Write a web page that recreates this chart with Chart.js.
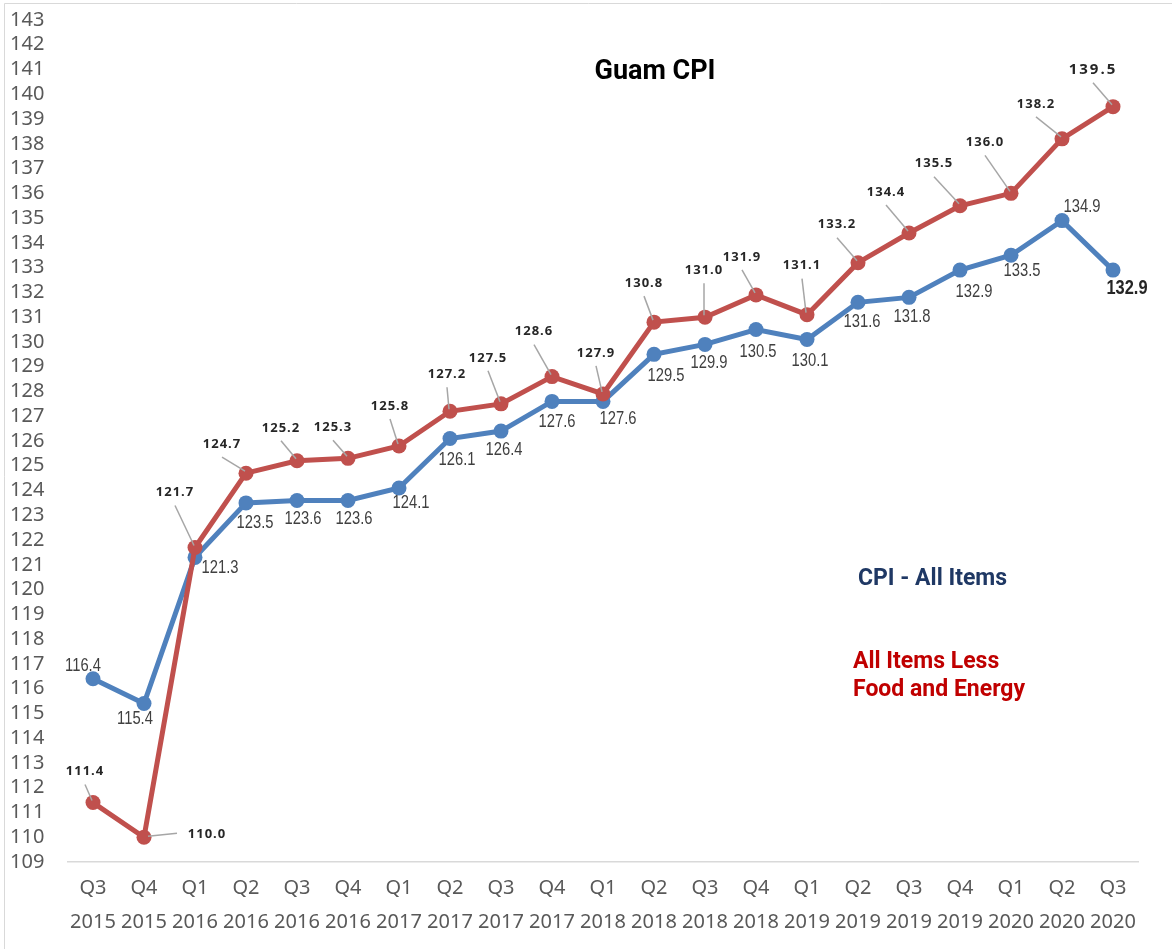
<!DOCTYPE html>
<html>
<head>
<meta charset="utf-8">
<title>Guam CPI</title>
<script src="https://cdn.jsdelivr.net/npm/chart.js@4.4.1/dist/chart.umd.min.js"></script>
<style>
  body { margin: 0; background: #fff; }
  canvas { display: block; }
</style>
</head>
<body>
<canvas id="cpiChart" width="1172" height="949"></canvas>
<script>
// quarters and years for the x axis
const quarters = ['Q3','Q4','Q1','Q2','Q3','Q4','Q1','Q2','Q3','Q4','Q1','Q2','Q3','Q4','Q1','Q2','Q3','Q4','Q1','Q2','Q3'];
const years = ['2015','2015','2016','2016','2016','2016','2017','2017','2017','2017','2018','2018','2018','2018','2019','2019','2019','2019','2020','2020','2020'];

// CPI - All Items
const cpiAll = [116.4, 115.4, 121.3, 123.5, 123.6, 123.6, 124.1, 126.1, 126.4, 127.6, 127.6, 129.5, 129.9, 130.5, 130.1, 131.6, 131.8, 132.9, 133.5, 134.9, 132.9];
// All Items Less Food and Energy
const cpiCore = [111.4, 110.0, 121.7, 124.7, 125.2, 125.3, 125.8, 127.2, 127.5, 128.6, 127.9, 130.8, 131.0, 131.9, 131.1, 133.2, 134.4, 135.5, 136.0, 138.2, 139.5];

const yMin = 109;
const yMax = 143;

const labels = quarters.map((q, i) => [q, years[i]]);

// where each value label sits relative to its point (px)
const allLabelPos = [[-10,-13],[-9,16],[25,11],[9,20],[6,19],[6,19],[12,15],[7,22],[3,19],[5,21],[15,18],
  [12,22],[4,19],[2,22],[3,22],[4,20],[3,20],[14,22],[11,16],[20,-14],[14,18]];
const coreLabelPos = [[-8,-31],[63,-3],[-20,-55],[-24,-29],[-16,-33],[-15,-31],[-9,-40],[-3,-37],[-13,-46],[-18,-45],[-7,-41],
  [-10,-39],[-1,-47],[-14,-38],[-5,-49],[-21,-38],[-23,-41],[-26,-42],[-26,-51],[-26,-35],[-20,-37]];

const valueLabels = {
  id: 'valueLabels',
  afterDatasetsDraw(chart) {
    const ctx = chart.ctx;
    chart.data.datasets.forEach((ds, di) => {
      const meta = chart.getDatasetMeta(di);
      const core = ds.label !== 'CPI - All Items';
      const pos = core ? coreLabelPos : allLabelPos;
      meta.data.forEach((pt, i) => {
        const last = i === meta.data.length - 1;
        const text = ds.data[i].toFixed(1);
        const lx = pt.x + pos[i][0];
        const ly = pt.y + pos[i][1];
        ctx.save();
        if (core) {
          // leader line
          ctx.strokeStyle = '#a6a6a6';
          ctx.lineWidth = 1.5;
          ctx.beginPath();
          if (Math.abs(pos[i][0]) > Math.abs(pos[i][1])) {
            ctx.moveTo(pt.x + 4, pt.y - 1);
            ctx.lineTo(lx - 30, ly - 1);
          } else {
            ctx.moveTo(lx, ly + 13);
            ctx.lineTo(pt.x - 1, pt.y - 2);
          }
          ctx.stroke();
          ctx.font = last ? 'bold 15px "Open Sans"' : 'bold 13px "Open Sans"';
          ctx.letterSpacing = last ? '2px' : '1px';
          ctx.fillStyle = '#262626';
          ctx.textAlign = 'center';
          ctx.textBaseline = 'middle';
          ctx.fillText(text, lx, ly);
        } else {
          ctx.translate(lx, ly);
          ctx.scale(0.82, 1);
          ctx.font = last ? 'bold 20px "Liberation Sans"' : '18px "Liberation Sans"';
          ctx.fillStyle = last ? '#262626' : '#404040';
          ctx.textAlign = 'center';
          ctx.textBaseline = 'middle';
          ctx.fillText(text, 0, 0);
        }
        ctx.restore();
      });
    });
  }
};

const decorations = {
  id: 'decorations',
  beforeDraw(chart) {
    const ctx = chart.ctx;
    ctx.save();
    ctx.fillStyle = '#fff';
    ctx.fillRect(0, 0, chart.width, chart.height);
    ctx.strokeStyle = '#d9d9d9';
    ctx.lineWidth = 1;
    ctx.beginPath();
    ctx.moveTo(4.5, chart.height);
    ctx.lineTo(4.5, 3.5);
    ctx.lineTo(chart.width, 3.5);
    ctx.stroke();
    ctx.restore();
  },
  afterDraw(chart) {
    const ctx = chart.ctx;
    ctx.save();
    ctx.textBaseline = 'middle';
    ctx.textAlign = 'center';
    ctx.fillStyle = '#000';
    ctx.font = 'bold 27px Roboto';
    ctx.fillText('Guam CPI', 655, 72);
    ctx.textAlign = 'left';
    ctx.font = 'bold 23px Roboto';
    ctx.fillStyle = '#1f3864';
    ctx.fillText('CPI - All Items', 858, 579);
    ctx.fillStyle = '#c00000';
    ctx.fillText('All Items Less', 853, 662);
    ctx.fillText('Food and Energy', 853, 690);
    ctx.restore();
  }
};

const ctx1 = document.getElementById('cpiChart').getContext('2d');
const cpiChart = new Chart(ctx1, {
  type: 'line',
  data: {
    labels: labels,
    datasets: [
      {
        label: 'All Items Less Food and Energy',
        data: cpiCore,
        borderColor: '#c0504d',
        backgroundColor: '#c0504d',
        borderWidth: 5,
        pointRadius: 7.5,
        pointHoverRadius: 7.5,
        pointBorderWidth: 0,
        tension: 0,
        order: 0,
      },
      {
        label: 'CPI - All Items',
        data: cpiAll,
        borderColor: '#4f81bd',
        backgroundColor: '#4f81bd',
        borderWidth: 5,
        pointRadius: 7.5,
        pointHoverRadius: 7.5,
        pointBorderWidth: 0,
        tension: 0,
        order: 1,
      },
    ],
  },
  options: {
    responsive: false,
    animation: false,
    layout: { padding: { left: 10, top: 20, right: 33.5, bottom: 0 } },
    plugins: {
      legend: { display: false },
      tooltip: { enabled: false },
    },
    scales: {
      x: {
        offset: true,
        grid: { display: false, drawTicks: false },
        border: { display: true, color: '#d9d9d9', width: 1.5 },
        ticks: {
          autoSkip: false,
          maxRotation: 0,
          padding: 9,
          color: '#595959',
          font: { family: '"Noto Sans"', size: 20, lineHeight: 1.7 },
        },
        afterFit(scale) { scale.height = 87; },
      },
      y: {
        min: yMin,
        max: yMax,
        grid: { display: false, drawTicks: false },
        border: { display: false },
        ticks: {
          stepSize: 1,
          autoSkip: false,
          crossAlign: 'far',
          color: '#595959',
          font: { family: '"Noto Sans"', size: 20 },
        },
        afterFit(scale) { scale.width = 57.5; },
      },
    },
  },
  plugins: [decorations, valueLabels],
});
</script>
</body>
</html>
